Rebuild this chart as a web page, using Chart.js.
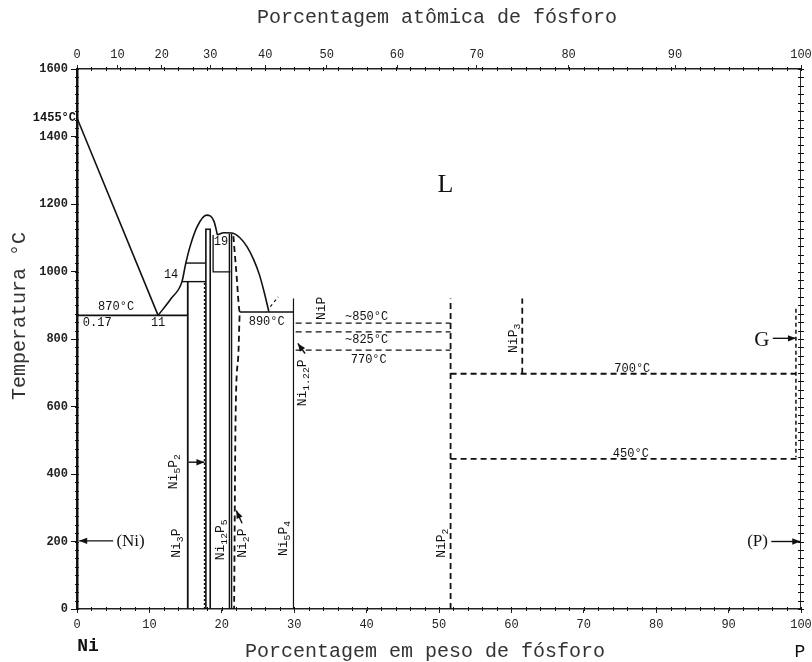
<!DOCTYPE html>
<html><head><meta charset="utf-8">
<script src="https://cdn.jsdelivr.net/npm/chart.js@4/dist/chart.umd.min.js"></script>
<style>html,body{margin:0;padding:0;background:#fff}</style>
</head><body><canvas id="c" width="812" height="662"></canvas>
<script>
// ---------- axis ticks ----------
const wtTicks = [0,10,20,30,40,50,60,70,80,90,100];
const atTickLabels = ['0','10','20','30','40','50','60','70','80','90','100'];
const atTickWtPos = [0,5.6,11.7,18.4,26.0,34.5,44.2,55.2,67.9,82.6,100];
const tempTicks = [0,200,400,600,800,1000,1200,1400,1600];

// ---------- phase boundary lines (wt% P, °C) ----------
const liquidusNi = [[0,1455],[11.2,870]];
const liquidusDome1 = [[11.2,870],[13.0,920],[14.5,970],[15.0,1022],[15.6,1073],[16.6,1133],[17.9,1167],[18.9,1150],[19.4,1108]];
const liquidusDome2 = [[19.4,1108],[20.3,1115],[21.4,1114],[22.5,1100],[23.5,1073],[24.4,1035],[25.2,990],[25.9,935],[26.5,881]];
const eutectic870 = [[0,870],[15.3,870]];
const line970 = [[14.5,970],[17.8,970]];
const line1025 = [[15.0,1025],[17.8,1025]];
const ni3pLine = [[15.3,0],[15.3,970]];
const ni5p2Dotted = [[17.6,0],[17.6,970]];
const ni5p2A = [[17.8,0],[17.8,1125],[18.4,1125],[18.4,0]];
const box19 = [[18.8,1108],[18.8,999],[21.2,999]];
const ni12p5A = [[21.05,0],[21.05,1112]];
const ni12p5B = [[21.35,0],[21.35,1112]];
const ni2pDashed = [[21.6,1105],[22.0,1000],[22.5,880],[22.3,760],[21.9,560],[21.7,0]];
const line890 = [[22.5,880],[29.9,880]];
const ni5p4Line = [[29.9,0],[29.9,920]];
const dash850 = [[30.2,847],[51.6,847]];
const dash825 = [[30.2,821],[51.6,821]];
const dash770 = [[30.2,767],[51.6,767]];
const nip2Line = [[51.6,0],[51.6,920]];
const nip3Line = [[61.5,697],[61.5,920]];
const dash700 = [[51.6,697],[99.3,697]];
const dash450 = [[51.6,445],[100,445]];
const rightDashed = [[99.3,890],[99.3,450]];
const smallDashed = [[26.7,896],[27.8,925]];
const rightAxis = [[100,0],[100,1600]];

// ---------- arrows (tail -> head) ----------
const arrowNi = [[5.0,202],[0.3,202]];
const arrowNi5P2 = [[15.4,435],[17.6,435]];
const arrowNi2P = [[22.8,254],[22.0,292]];
const arrowNi122P = [[31.5,757],[30.5,787]];
const arrowG = [[96.1,802],[99.3,802]];
const arrowP = [[95.9,200],[99.9,200]];
const arrows = [arrowNi, arrowNi5P2, arrowNi2P, arrowNi122P, arrowG, arrowP];

// ---------- text annotations: [text, wt%, °C] ----------
const phaseLabels = [
  ['Ni_3P',13.8,195],['Ni_5P_2',13.3,407],['Ni_{12}P_5',19.8,205],['Ni_2P',22.8,195],
  ['Ni_5P_4',28.5,209],['Ni_{1.22}P',31.2,670],['NiP',33.8,891],['NiP_3',60.3,802],['NiP_2',50.4,195]
];
const tempLabels = [
  ['870°C',5.4,895],['0.17',2.8,847],['11',11.2,847],['14',13.0,990],['19',19.9,1088],
  ['890°C',26.2,850],['~850°C',40.0,867],['~825°C',40.0,797],['770°C',40.3,738],
  ['700°C',76.7,713],['450°C',76.5,461]
];
const serifLabels = [['L',50.9,1256,26],['G',94.6,797,21],['(P)',94.0,200,17],['(Ni)',7.4,200,17]];

const MONO = '"Liberation Mono", "DejaVu Sans Mono", monospace';
const SERIF = '"Liberation Serif", "DejaVu Serif", serif';

function ds(pts, opt){
  return Object.assign({type:'scatter', data: pts.map(p=>({x:p[0],y:p[1]})), showLine:true,
    borderColor:'#111', borderWidth:1.4, pointRadius:0, fill:false, tension:0}, opt||{});
}
const DASH = {borderDash:[6,4], borderWidth:1.8};
const datasets = [
  ds(liquidusNi,{borderWidth:1.6}),
  ds(liquidusDome1,{cubicInterpolationMode:'monotone',borderWidth:1.6}),
  ds(liquidusDome2,{cubicInterpolationMode:'monotone',borderWidth:1.6}),
  ds(eutectic870,{borderWidth:1.6}), ds(line970), ds(line1025),
  ds(ni3pLine,{borderWidth:1.8}), ds(ni5p2Dotted,{borderDash:[2,2],borderWidth:1.2}),
  ds(ni5p2A,{borderWidth:1.6}), ds(box19,{borderWidth:1.3}),
  ds(ni12p5A,{borderWidth:1.4}), ds(ni12p5B,{borderWidth:1.4}),
  ds(ni2pDashed,Object.assign({cubicInterpolationMode:'monotone'},DASH,{tension:0.3})),
  ds(line890,{borderWidth:1.6}), ds(ni5p4Line,{borderWidth:1.2}),
  ds(dash850,{borderDash:[6,4],borderWidth:1.4}), ds(dash825,{borderDash:[6,4],borderWidth:1.4}), ds(dash770,{borderDash:[6,4],borderWidth:1.4}),
  ds(nip2Line,DASH), ds(nip3Line,DASH), ds(dash700,DASH), ds(dash450,DASH),
  ds(rightDashed,{borderDash:[4,3],borderWidth:1.5}), ds(smallDashed,{borderDash:[3,3],borderWidth:1.2}),
  ds(rightAxis,{borderWidth:1.8})
].concat(arrows.map(a=>ds(a,{borderWidth:1.4})));

function parseRich(t){
  const segs=[]; let i=0;
  while(i<t.length){
    if(t[i]==='_'){
      if(t[i+1]==='{'){const j=t.indexOf('}',i); segs.push({t:t.slice(i+2,j),sub:true}); i=j+1;}
      else {segs.push({t:t[i+1],sub:true}); i+=2;}
    } else {
      let j=i; while(j<t.length && t[j]!=='_') j++;
      segs.push({t:t.slice(i,j),sub:false}); i=j;
    }
  }
  return segs;
}
function drawRich(ctx,text,px,py,rot,size,family,weight){
  const segs=parseRich(text);
  const fnt=(s)=> (weight||'normal')+' '+(s.sub?size*0.75:size)+'px '+family;
  let total=0; segs.forEach(s=>{ctx.font=fnt(s); s.w=ctx.measureText(s.t).width; total+=s.w;});
  ctx.save(); ctx.translate(px,py); ctx.rotate(rot*Math.PI/180);
  ctx.textBaseline='middle'; ctx.textAlign='left';
  let x=-total/2;
  segs.forEach(s=>{ctx.font=fnt(s); ctx.fillText(s.t,x,s.sub?size*0.3:0); x+=s.w;});
  ctx.restore();
}

const annot = {
  id:'annot',
  afterDraw(chart){
    const {ctx, scales:{x,y}} = chart;
    ctx.save();
    ctx.fillStyle='#111'; ctx.strokeStyle='#111'; ctx.lineWidth=1;
    for(let t=0;t<=1600;t+=25){
      const py=Math.round(y.getPixelForValue(t))+0.5;
      const xl=x.getPixelForValue(0), xr=x.getPixelForValue(100);
      ctx.beginPath(); ctx.moveTo(xl-2,py); ctx.lineTo(xl+2,py); ctx.moveTo(xr-3,py); ctx.lineTo(xr+3,py); ctx.stroke();
    }
    for(let w=0;w<=100;w+=2){
      const px=Math.round(x.getPixelForValue(w))+0.5;
      const yb=y.getPixelForValue(0), yt=y.getPixelForValue(1600);
      ctx.beginPath(); ctx.moveTo(px,yb-2); ctx.lineTo(px,yb+2); ctx.moveTo(px,yt-2); ctx.lineTo(px,yt+2); ctx.stroke();
    }
    arrows.forEach(a=>{
      const p1=a[a.length-2], p2=a[a.length-1];
      const x1=x.getPixelForValue(p1[0]), y1=y.getPixelForValue(p1[1]);
      const x2=x.getPixelForValue(p2[0]), y2=y.getPixelForValue(p2[1]);
      const ang=Math.atan2(y2-y1,x2-x1), L=8, W=3.2;
      ctx.beginPath(); ctx.moveTo(x2,y2);
      ctx.lineTo(x2-L*Math.cos(ang)+W*Math.sin(ang), y2-L*Math.sin(ang)-W*Math.cos(ang));
      ctx.lineTo(x2-L*Math.cos(ang)-W*Math.sin(ang), y2-L*Math.sin(ang)+W*Math.cos(ang));
      ctx.closePath(); ctx.fill();
    });
    phaseLabels.forEach(l=>drawRich(ctx,l[0],x.getPixelForValue(l[1]),y.getPixelForValue(l[2]),-90,13,MONO));
    tempLabels.forEach(l=>drawRich(ctx,l[0],x.getPixelForValue(l[1]),y.getPixelForValue(l[2]),0,12,MONO));
    serifLabels.forEach(l=>drawRich(ctx,l[0],x.getPixelForValue(l[1]),y.getPixelForValue(l[2]),0,l[3],SERIF));
    ctx.fillStyle='#333';
    drawRich(ctx,'Porcentagem atômica de fósforo',437,18,0,20,MONO);
    drawRich(ctx,'Porcentagem em peso de fósforo',425,652,0,20,MONO);
    drawRich(ctx,'Temperatura °C',20,316,-90,20,MONO);
    ctx.fillStyle='#111';
    drawRich(ctx,'Ni',88,646,0,18,MONO,'bold');
    drawRich(ctx,'P',800,652,0,18,MONO);
    ctx.font='bold 12px '+MONO; ctx.textAlign='right'; ctx.textBaseline='middle';
    ctx.fillText('1455°C',76,y.getPixelForValue(1455));
    ctx.restore();
  }
};

new Chart(document.getElementById('c'), {
  type:'scatter',
  data:{datasets},
  options:{
    responsive:false, animation:false, events:[],
    layout:{padding:{left:0,right:11,top:0,bottom:0}},
    plugins:{legend:{display:false}, tooltip:{enabled:false}},
    scales:{
      x:{type:'linear',position:'bottom',min:0,max:100,
        afterBuildTicks:s=>{s.ticks=wtTicks.map(v=>({value:v}));},
        afterFit:s=>{s.height=53; s.paddingRight=0;},
        ticks:{callback:v=>String(v),font:{family:MONO,size:12},color:'#222',padding:5,maxRotation:0,autoSkip:false},
        grid:{drawOnChartArea:false,tickLength:4,color:'#222'},
        border:{dash:[2,4],width:1.5,color:'#222'}},
      x2:{type:'linear',position:'top',min:0,max:100,
        afterBuildTicks:s=>{s.ticks=atTickWtPos.map(v=>({value:v}));},
        afterFit:s=>{s.height=69; s.paddingRight=0;},
        ticks:{callback:(v,i)=>atTickLabels[i],font:{family:MONO,size:12},color:'#222',padding:3,maxRotation:0,autoSkip:false},
        grid:{drawOnChartArea:false,tickLength:4,color:'#222'},
        border:{dash:[2,4],width:1.5,color:'#222'}},
      y:{type:'linear',position:'left',min:0,max:1600,
        afterBuildTicks:s=>{s.ticks=tempTicks.map(v=>({value:v}));},
        afterFit:s=>{s.width=77; s.paddingTop=0; s.paddingBottom=0;},
        ticks:{callback:v=>String(v),font:{family:MONO,size:12,weight:'bold'},color:'#222',padding:3,autoSkip:false},
        grid:{drawOnChartArea:false,tickLength:6,color:'#111'},
        border:{width:2.5,color:'#111'}}
    }
  },
  plugins:[annot]
});
</script>
</body></html>
